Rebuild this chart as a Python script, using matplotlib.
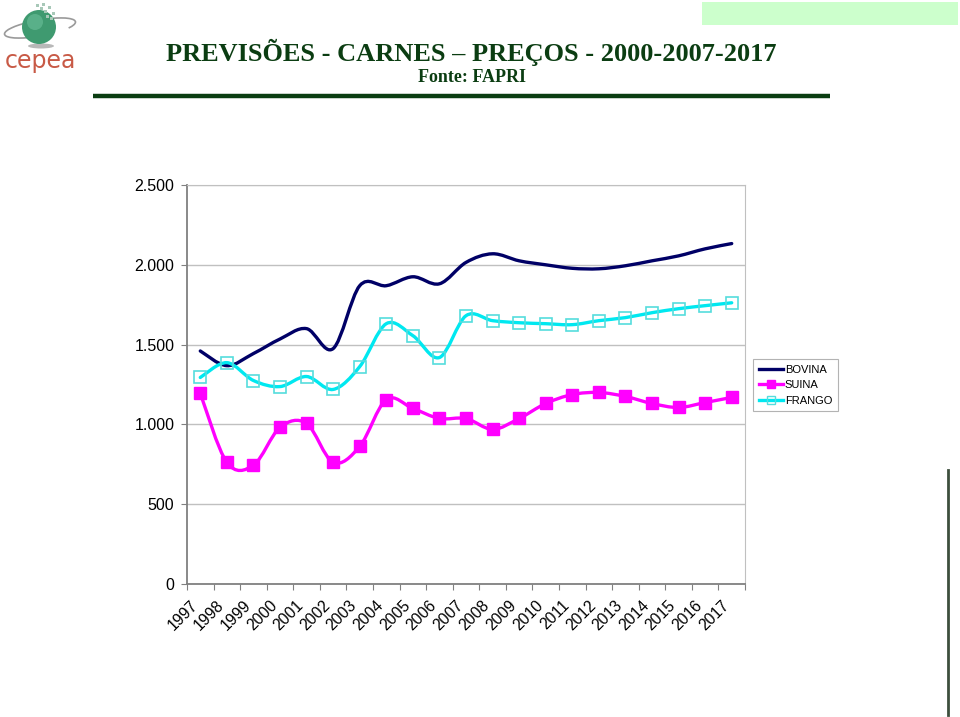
import matplotlib
matplotlib.use('Agg')
import matplotlib.pyplot as plt
import numpy as np
from matplotlib.path import Path
from matplotlib.patches import PathPatch, Circle, Ellipse, Rectangle, Arc
from matplotlib.lines import Line2D
from matplotlib.ticker import FuncFormatter, FixedLocator

plt.rcParams['font.family'] = ['Liberation Sans', 'DejaVu Sans']

# Dados
anos = [str(a) for a in range(1997, 2018)]
bovina = [1460, 1368, 1444, 1535, 1600, 1475, 1869, 1869, 1925, 1881, 2015,
          2069, 2025, 2000, 1978, 1975, 1994, 2025, 2056, 2100, 2133]
suina = [1194, 762, 744, 981, 1006, 762, 862, 1156, 1100, 1037, 1037,
         969, 1037, 1131, 1187, 1200, 1175, 1131, 1106, 1137, 1169]
frango = [1294, 1387, 1275, 1237, 1300, 1219, 1362, 1631, 1556, 1419, 1681,
          1650, 1637, 1631, 1625, 1650, 1669, 1700, 1725, 1744, 1762]

cor_bovina = '#000066'
cor_suina = '#ff00ff'
cor_frango = '#00e8f0'
verde = '#0b3d12'


def curva_suave(ax, xs, ys, cor, lw):
    # curva suavizada tipo Excel (Bezier / Catmull-Rom)
    xs = np.asarray(xs, float)
    ys = np.asarray(ys, float)
    n = len(xs)
    verts = [(xs[0], ys[0])]
    codes = [Path.MOVETO]
    t = 1 / 6
    for i in range(n - 1):
        p0 = i - 1 if i > 0 else i
        p3 = i + 2 if i + 2 < n else i + 1
        c1 = (xs[i] + (xs[i + 1] - xs[p0]) * t, ys[i] + (ys[i + 1] - ys[p0]) * t)
        c2 = (xs[i + 1] - (xs[p3] - xs[i]) * t, ys[i + 1] - (ys[p3] - ys[i]) * t)
        verts += [c1, c2, (xs[i + 1], ys[i + 1])]
        codes += [Path.CURVE4] * 3
    ax.add_patch(PathPatch(Path(verts, codes), facecolor='none', edgecolor=cor,
                           lw=lw, capstyle='round', joinstyle='round', zorder=3))


fig = plt.figure(figsize=(9.6, 7.17), dpi=100)

# camada de fundo para título, logo e enfeites (coordenadas em pixels)
bg = fig.add_axes([0, 0, 1, 1])
bg.set_xlim(0, 960)
bg.set_ylim(717, 0)
bg.axis('off')

bg.add_patch(Rectangle((702, 2), 256, 23, facecolor='#ccffcc', edgecolor='none'))
bg.plot([948, 948], [470, 715], color='#3d4f3d', lw=2)
bg.plot([93, 830], [95.5, 95.5], color=verde, lw=3.2, solid_capstyle='butt')
bg.text(471, 52, 'PREVISÕES - CARNES – PREÇOS - 2000-2007-2017', family='Liberation Serif',
        fontsize=19, fontweight='bold', color=verde, ha='center', va='center')
bg.text(472, 78, 'Fonte: FAPRI', family='Liberation Serif', fontsize=13,
        fontweight='bold', color=verde, ha='center', va='center')

# logo aproximado
bg.add_patch(Ellipse((41, 46), 26, 5, facecolor='#b8b8b8', edgecolor='none'))
bg.add_patch(Arc((40, 28), 72, 16, angle=-10, theta1=150, theta2=370, color='#9a9a9a', lw=1.2))
bg.add_patch(Circle((39, 27), 17, facecolor='#3f9a70', edgecolor='none'))
bg.add_patch(Circle((35, 22), 8, facecolor='#6cc09a', edgecolor='none', alpha=0.6))
for dx, dy in [(36, 4), (40, 7), (44, 10), (48, 6), (52, 12), (46, 15), (42, 3), (50, 17)]:
    bg.add_patch(Rectangle((dx, dy), 2.5, 2.5, facecolor='#a8c8b8', edgecolor='none'))
bg.text(40, 61, 'cepea', fontsize=17, color='#c85a46',
        ha='center', va='center', family='DejaVu Sans')

# gráfico principal
ax = fig.add_axes([187 / 960, 1 - 584 / 717, 558 / 960, 399 / 717])
x = np.arange(len(anos))

curva_suave(ax, x, bovina, cor_bovina, 2.4)
curva_suave(ax, x, suina, cor_suina, 2.4)
curva_suave(ax, x, frango, cor_frango, 2.4)
ax.plot(x, suina, linestyle='none', marker='s', ms=8, color=cor_suina, zorder=4)
ax.plot(x, frango, linestyle='none', marker='s', ms=9, mfc='none', mec='#55dddd',
        mew=1.2, zorder=4)

ax.set_xlim(-0.5, len(anos) - 0.5)
ax.set_ylim(0, 2500)
ax.set_yticks(range(0, 2501, 500))
ax.yaxis.set_major_formatter(FuncFormatter(lambda v, p: f'{int(v):,}'.replace(',', '.')))
ax.yaxis.grid(True, color='#c0c0c0', lw=1)
ax.set_axisbelow(True)

ax.xaxis.set_major_locator(FixedLocator(np.arange(-0.5, len(anos), 1)))
ax.set_xticklabels([])
ax.set_xticks(x, minor=True)
ax.set_xticklabels(anos, minor=True, rotation=45, ha='right', va='top', fontsize=11.3)
ax.tick_params(axis='x', which='minor', length=0, pad=10)
ax.tick_params(axis='x', which='major', length=4, color='#808080')
ax.tick_params(axis='y', length=4, color='#808080', labelsize=11.5, pad=5)

for lado in ['left', 'bottom']:
    ax.spines[lado].set_color('#808080')
    ax.spines[lado].set_linewidth(1.3)
for lado in ['top', 'right']:
    ax.spines[lado].set_color('#c0c0c0')

handles = [
    Line2D([], [], color=cor_bovina, lw=2.4),
    Line2D([], [], color=cor_suina, lw=2.4, marker='s', ms=6),
    Line2D([], [], color=cor_frango, lw=2.4, marker='s', ms=6, mfc='none', mec='#55dddd'),
]
leg = fig.legend(handles, ['BOVINA', 'SUINA', 'FRANGO'], loc='upper left',
                 bbox_to_anchor=(753 / 960, 1 - 359 / 717), fontsize=8,
                 frameon=True, fancybox=False, edgecolor='#a0a0a0',
                 handlelength=2.2, handletextpad=0.15, labelspacing=0.5,
                 borderpad=0.5, borderaxespad=0)
leg.get_frame().set_linewidth(0.8)

fig.savefig('out.png', dpi=100)
